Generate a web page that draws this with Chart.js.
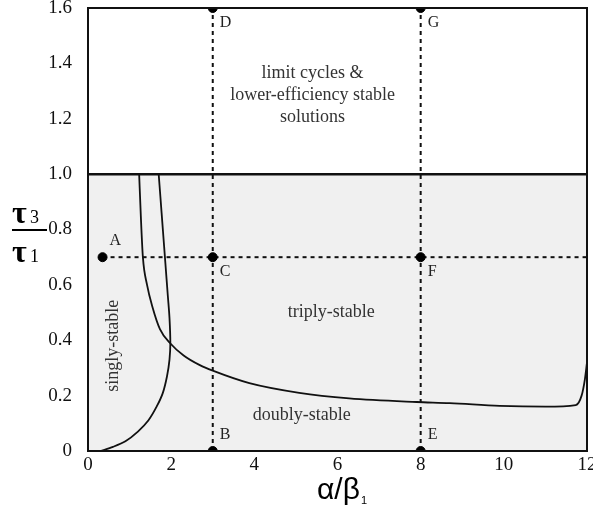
<!DOCTYPE html>
<html>
<head>
<meta charset="utf-8">
<script src="https://cdn.jsdelivr.net/npm/chart.js@4.4.1/dist/chart.umd.min.js"></script>
<style>
  html, body { margin: 0; padding: 0; background: #fff; }
  #wrap { width: 593px; height: 510px; }
</style>
</head>
<body>
<div id="wrap"><canvas id="stabilityChart" width="593" height="510"></canvas></div>
<script>
// axis ticks
const xTicks = [0, 2, 4, 6, 8, 10, 12];
const yTicks = [0, 0.2, 0.4, 0.6, 0.8, 1.0, 1.2, 1.4, 1.6];
const yTickLabels = ["0", "0.2", "0.4", "0.6", "0.8", "1.0", "1.2", "1.4", "1.6"];

// boundary tau3/tau1 = 1
const limitX = [0, 12];
const limitY = [1.0, 1.0];

// curve bounding the triply-stable region (from top, down and to the right)
const outerX = [1.23, 1.27, 1.32, 1.42, 1.55, 1.73, 1.97, 2.3, 2.69, 3.0, 3.88, 5.08, 6.28, 7.9, 8.7, 9.9, 11.0, 11.73, 11.87, 11.95, 12.0];
const outerY = [1.0, 0.85, 0.7, 0.6, 0.52, 0.44, 0.39, 0.345, 0.31, 0.29, 0.245, 0.21, 0.19, 0.177, 0.173, 0.163, 0.16, 0.166, 0.2, 0.26, 0.32];

// curve bounding the singly-stable region
const innerX = [0.3, 0.6, 0.9, 1.2, 1.45, 1.65, 1.8, 1.9, 1.96, 1.98, 1.96, 1.92, 1.86, 1.8, 1.74, 1.7];
const innerY = [0, 0.015, 0.035, 0.07, 0.11, 0.16, 0.21, 0.27, 0.33, 0.39, 0.48, 0.56, 0.68, 0.8, 0.92, 1.0];

// marked points
const pointNames = ["A", "B", "C", "D", "E", "F", "G"];
const pointX = [0.35, 3, 3, 3, 8, 8, 8];
const pointY = [0.7, 0, 0.7, 1.6, 0, 0.7, 1.6];

// dotted guide lines
const guideX = [[3, 3], [8, 8], [0.35, 12]];
const guideY = [[0, 1.6], [0, 1.6], [0.7, 0.7]];

// region names
const regionNames = [["limit cycles &", "lower-efficiency stable", "solutions"], ["triply-stable"], ["doubly-stable"], ["singly-stable"]];
const regionX = [5.4, 5.85, 5.14, 0.6];
const regionY = [1.285, 0.5, 0.13, 0.38];

// label placement (style)
const labelAbove = [true, true, false, false, true, false, false];
const regionRotated = [false, false, false, true];

const serif = "'Liberation Serif', 'DejaVu Serif', serif";
const sans = "'Liberation Sans', Arial, sans-serif";

function toXY(xs, ys) {
  return xs.map((x, i) => ({ x: x, y: ys[i] }));
}

const datasets = [];
datasets.push({
  data: toXY(pointX, pointY),
  showLine: false,
  pointRadius: 4.5,
  pointBackgroundColor: "#000",
  pointBorderColor: "#000",
});
guideX.forEach((gx, i) => {
  datasets.push({
    data: toXY(gx, guideY[i]),
    showLine: true,
    borderColor: "#111",
    borderWidth: 2,
    borderDash: [4, 4],
    pointRadius: 0,
  });
});
datasets.push({
  data: toXY(outerX, outerY),
  showLine: true,
  borderColor: "#111",
  borderWidth: 1.8,
  cubicInterpolationMode: "monotone",
  pointRadius: 0,
});
datasets.push({
  data: toXY(innerX, innerY),
  showLine: true,
  borderColor: "#111",
  borderWidth: 1.8,
  tension: 0.3,
  pointRadius: 0,
});
datasets.push({
  data: toXY(limitX, limitY),
  showLine: true,
  borderColor: "#111",
  borderWidth: 2.5,
  pointRadius: 0,
  fill: "origin",
  backgroundColor: "#f0f0f0",
});

const annotate = {
  id: "annotate",
  afterDraw(chart) {
    const ctx = chart.ctx;
    const xs = chart.scales.x;
    const ys = chart.scales.y;
    const area = chart.chartArea;
    ctx.save();

    // frame
    ctx.strokeStyle = "#111";
    ctx.lineWidth = 2;
    ctx.strokeRect(area.left, area.top, area.right - area.left, area.bottom - area.top);

    // point letters
    ctx.fillStyle = "#222";
    ctx.font = "16px " + serif;
    ctx.textAlign = "left";
    ctx.textBaseline = "middle";
    pointNames.forEach((name, i) => {
      const px = xs.getPixelForValue(pointX[i]);
      const py = ys.getPixelForValue(pointY[i]);
      ctx.fillText(name, px + 7, labelAbove[i] ? py - 16 : py + 15);
    });

    // region names
    ctx.fillStyle = "#333";
    ctx.font = "18px " + serif;
    ctx.textAlign = "center";
    regionNames.forEach((lines, i) => {
      const px = xs.getPixelForValue(regionX[i]);
      const py = ys.getPixelForValue(regionY[i]);
      ctx.save();
      ctx.translate(px, py);
      if (regionRotated[i]) ctx.rotate(-Math.PI / 2);
      const step = 22;
      lines.forEach((line, j) => {
        ctx.fillText(line, 0, (j - (lines.length - 1) / 2) * step);
      });
      ctx.restore();
    });

    // y title: tau3 / tau1
    ctx.fillStyle = "#000";
    ctx.textAlign = "left";
    ctx.textBaseline = "alphabetic";
    ctx.font = "bold 32px " + serif;
    ctx.fillText("τ", 12, 223);
    ctx.fillText("τ", 12, 262);
    ctx.font = "18px " + serif;
    ctx.fillText("3", 30, 223);
    ctx.fillText("1", 30, 262);
    ctx.fillRect(12, 229, 35, 2);

    // x title: alpha / beta1
    ctx.font = "30px " + sans;
    ctx.fillText("α/β", 317, 499);
    const w = ctx.measureText("α/β").width;
    ctx.font = "11px " + sans;
    ctx.fillText("1", 317 + w + 1, 504);

    ctx.restore();
  },
};

new Chart(document.getElementById("stabilityChart"), {
  type: "scatter",
  data: { datasets: datasets },
  options: {
    responsive: false,
    devicePixelRatio: 1,
    animation: false,
    layout: { padding: 0 },
    plugins: {
      legend: { display: false },
      tooltip: { enabled: false },
      filler: { drawTime: "beforeDatasetsDraw" },
    },
    scales: {
      x: {
        type: "linear",
        min: 0,
        max: 12,
        afterBuildTicks: (scale) => {
          scale.ticks = xTicks.map((v) => ({ value: v }));
        },
        afterFit: (scale) => {
          scale.height = 59;
          scale.paddingRight = 6;
          scale.paddingLeft = 0;
        },
        grid: { display: false },
        border: { display: false },
        ticks: {
          color: "#111",
          padding: -5,
          maxRotation: 0,
          font: { family: serif, size: 19 },
        },
      },
      y: {
        type: "linear",
        min: 0,
        max: 1.6,
        afterBuildTicks: (scale) => {
          scale.ticks = yTicks.map((v) => ({ value: v }));
        },
        afterFit: (scale) => {
          scale.width = 88;
          scale.paddingTop = 8;
        },
        grid: { display: false },
        border: { display: false },
        ticks: {
          color: "#111",
          padding: 8,
          font: { family: serif, size: 19 },
          callback: (value) => {
            const i = yTicks.findIndex((t) => Math.abs(t - value) < 1e-6);
            return i >= 0 ? yTickLabels[i] : "";
          },
        },
      },
    },
  },
  plugins: [annotate],
});
</script>
</body>
</html>
